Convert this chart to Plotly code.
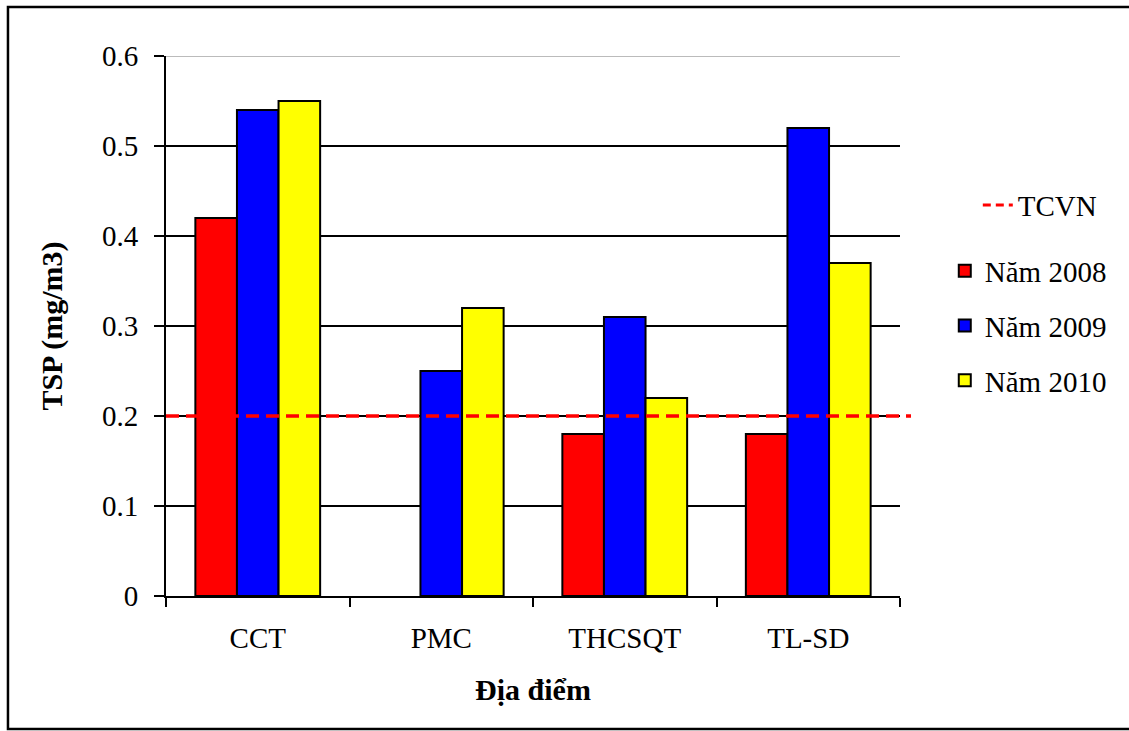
import plotly.graph_objects as go

categories = ["CCT", "PMC", "THCSQT", "TL-SD"]
series_names = ["Năm 2008", "Năm 2009", "Năm 2010"]
values_2008 = [0.42, None, 0.18, 0.18]
values_2009 = [0.54, 0.25, 0.31, 0.52]
values_2010 = [0.55, 0.32, 0.22, 0.37]
series_colors = ["#FF0000", "#0000FF", "#FFFF00"]
tcvn_name = "TCVN"
tcvn_value = 0.2
y_tick_vals = [0, 0.1, 0.2, 0.3, 0.4, 0.5, 0.6]
y_tick_text = ["0", "0.1", "0.2", "0.3", "0.4", "0.5", "0.6"]
x_title = "Địa điểm"
y_title = "TSP (mg/m3)"

FONT = "Times New Roman, 'Liberation Serif', serif"
FS = 29

fig = go.Figure()

# legend-only entry for TCVN (line drawn as shape below)
fig.add_trace(go.Scatter(
    x=[None], y=[None], mode="lines", name=tcvn_name,
    line=dict(color="#FF0000", width=3, dash="8px,5px"),
    legend="legend", showlegend=True,
))

for name, vals, col in zip(series_names, [values_2008, values_2009, values_2010], series_colors):
    fig.add_trace(go.Bar(
        x=categories, y=vals, name=name,
        marker=dict(color=col, line=dict(color="black", width=2)),
        legend="legend2", legendgroup=name,
    ))

fig.add_shape(type="line", xref="paper", yref="y", x0=0, x1=1.015,
              y0=tcvn_value, y1=tcvn_value,
              line=dict(color="#FF0000", width=3.5, dash="13px,7px"), layer="above")
# grey top border of plot area
fig.add_shape(type="line", xref="paper", yref="y", x0=0, x1=1,
              y0=y_tick_vals[-1], y1=y_tick_vals[-1],
              line=dict(color="#BBBBBB", width=2), layer="above")
# outer frame
fig.add_shape(type="rect", xref="paper", yref="paper",
              x0=-0.2153, x1=1.33, y0=-0.2463, y1=1.0907,
              line=dict(color="black", width=2.5), fillcolor="rgba(0,0,0,0)", layer="below")

fig.update_layout(
    width=1129, height=731,
    margin=dict(l=166, r=229, t=56, b=135, pad=0),
    paper_bgcolor="white", plot_bgcolor="white",
    barmode="group", bargap=0.32, bargroupgap=0,
    font=dict(family=FONT, size=FS, color="black"),
    legend=dict(x=1.106, xanchor="left", y=0.724, yanchor="middle",
                font=dict(family=FONT, size=FS), bgcolor="rgba(0,0,0,0)"),
    legend2=dict(x=1.061, xanchor="left", y=0.5, yanchor="middle",
                 font=dict(family=FONT, size=FS), bgcolor="rgba(0,0,0,0)",
                 tracegroupgap=14),
)

fig.update_xaxes(
    type="category", showline=True, linecolor="black", linewidth=2,
    ticks="outside", tickson="boundaries", ticklen=9, tickwidth=2, tickcolor="black",
    showgrid=False, ticklabelstandoff=15,
    tickfont=dict(family=FONT, size=FS),
    title=dict(text="<b>" + x_title + "</b>", font=dict(family=FONT, size=30), standoff=26),
)
fig.update_yaxes(
    range=[0, 0.6], tickvals=y_tick_vals, ticktext=y_tick_text,
    showline=True, linecolor="black", linewidth=2,
    ticks="outside", ticklen=10, tickwidth=2, tickcolor="black",
    showgrid=True, gridcolor="black", gridwidth=2, zeroline=False,
    ticklabelstandoff=10,
    tickfont=dict(family=FONT, size=FS),
    title=dict(text="<b>" + y_title + "</b>", font=dict(family=FONT, size=30), standoff=30),
)

fig.write_html("out.html")
